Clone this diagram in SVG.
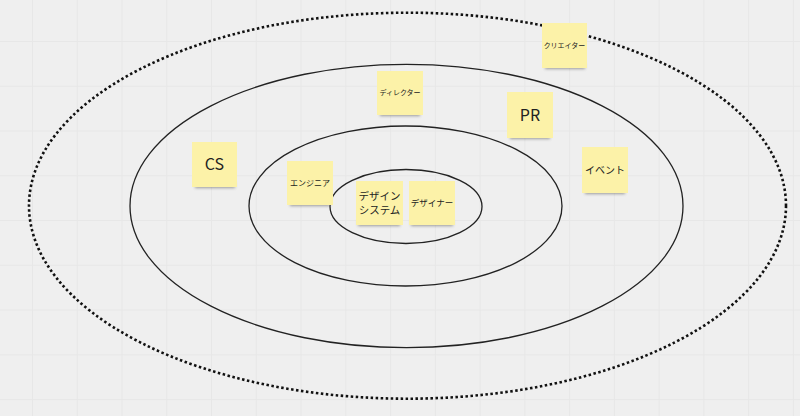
<svg xmlns="http://www.w3.org/2000/svg" width="800" height="416" viewBox="0 0 800 416">
<defs>
<pattern id="grid" x="32" y="41" width="44.76" height="44.76" patternUnits="userSpaceOnUse">
<path d="M0.5 0V44.76M0 0.5H44.76" fill="none" stroke="#e7e7e7" stroke-width="1"/>
</pattern>
<filter id="sh" x="-30%" y="-30%" width="160%" height="180%">
<feGaussianBlur stdDeviation="1.6"/>
</filter>
<style>
.ring{fill:none;stroke:#222;stroke-width:1.3}
.dot{fill:none;stroke:#111;stroke-width:2.6;stroke-dasharray:2.5 2.5}
.note{fill:#fcf2a8}
.shadow{fill:#555;opacity:0.55;filter:url(#sh)}
.t{font-family:"Noto Sans CJK JP","Noto Sans",sans-serif;fill:#222;text-anchor:middle}
</style>
</defs>
<rect width="800" height="416" fill="#efefef"/>
<rect width="800" height="416" fill="url(#grid)"/>
<g id="rings">
<ellipse class="dot" cx="407.5" cy="205.7" rx="378.5" ry="193"/>
<ellipse class="ring" cx="406.5" cy="206" rx="276.5" ry="141.7"/>
<ellipse class="ring" cx="405.5" cy="206" rx="156.5" ry="80"/>
<ellipse class="ring" cx="406" cy="206.5" rx="76" ry="37"/>
</g>
<g id="creator">
<rect class="shadow" x="545" y="63" width="40" height="6"/>
<rect class="note" x="542" y="23" width="45" height="45"/>
<text class="t" x="564.5" y="48" font-size="7">クリエイター</text>
</g>
<g id="director">
<rect class="shadow" x="380" y="110" width="40" height="6"/>
<rect class="note" x="377" y="71" width="46" height="44"/>
<text class="t" x="400" y="95" font-size="7">ディレクター</text>
</g>
<g id="pr">
<rect class="shadow" x="510" y="133" width="40" height="6"/>
<rect class="note" x="507" y="92" width="46" height="46"/>
<text class="t" x="530" y="121" font-size="16" font-family="'Noto Sans',sans-serif">PR</text>
</g>
<g id="cs">
<rect class="shadow" x="195" y="182" width="40" height="6"/>
<rect class="note" x="192" y="142" width="45" height="45"/>
<text class="t" x="214.5" y="170" font-size="16" font-family="'Noto Sans',sans-serif">CS</text>
</g>
<g id="event">
<rect class="shadow" x="585" y="188" width="40" height="6"/>
<rect class="note" x="582" y="147" width="46" height="46"/>
<text class="t" x="605" y="173.5" font-size="10">イベント</text>
</g>
<g id="engineer">
<rect class="shadow" x="290" y="200" width="40" height="6"/>
<rect class="note" x="287" y="161" width="46" height="44"/>
<text class="t" x="310" y="185.5" font-size="8">エンジニア</text>
</g>
<g id="designsystem">
<rect class="shadow" x="358" y="220" width="42" height="6"/>
<rect class="note" x="356" y="181" width="47" height="44"/>
<text class="t" x="379.5" y="200" font-size="10.5">デザイン</text>
<text class="t" x="379.5" y="214" font-size="10.5">システム</text>
</g>
<g id="designer">
<rect class="shadow" x="411" y="220" width="42" height="6"/>
<rect class="note" x="409" y="181" width="46" height="44"/>
<text class="t" x="432" y="206" font-size="8.5">デザイナー</text>
</g>
</svg>
